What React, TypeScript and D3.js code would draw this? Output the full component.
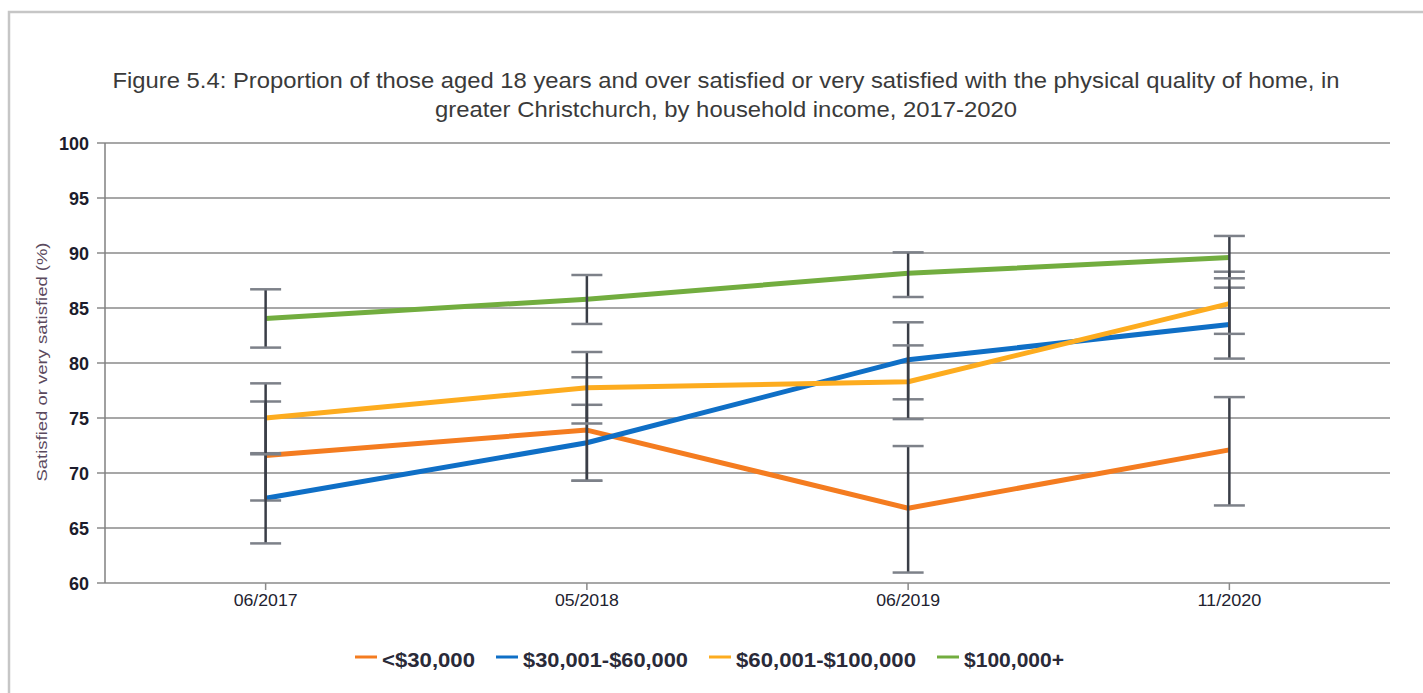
import React from "react";
import * as d3 from "d3";

const categories = ["06/2017", "05/2018", "06/2019", "11/2020"];
const yTicks = [60, 65, 70, 75, 80, 85, 90, 95, 100];

const seriesNames = ["<$30,000", "$30,001-$60,000", "$60,001-$100,000", "$100,000+"];

const under30 = [71.6, 73.9, 66.8, 72.1];
const under30Lo = [67.5, 69.3, 60.95, 67.05];
const under30Hi = [76.5, 78.7, 72.45, 76.9];

const inc30to60 = [67.7, 72.75, 80.3, 83.5];
const inc30to60Lo = [63.6, 69.3, 76.7, 80.4];
const inc30to60Hi = [71.8, 76.2, 83.7, 86.85];

const inc60to100 = [75.0, 77.75, 78.3, 85.4];
const inc60to100Lo = [71.7, 74.5, 74.9, 82.65];
const inc60to100Hi = [78.15, 81.0, 81.6, 88.3];

const over100 = [84.05, 85.8, 88.15, 89.6];
const over100Lo = [81.4, 83.55, 86.0, 87.7];
const over100Hi = [86.7, 88.0, 90.06, 91.55];

const colors = ["#F47C20", "#0F6FC6", "#FDAC1F", "#72AD3F"];

const series = [
  { name: seriesNames[0], values: under30, lo: under30Lo, hi: under30Hi, color: colors[0] },
  { name: seriesNames[1], values: inc30to60, lo: inc30to60Lo, hi: inc30to60Hi, color: colors[1] },
  { name: seriesNames[2], values: inc60to100, lo: inc60to100Lo, hi: inc60to100Hi, color: colors[2] },
  { name: seriesNames[3], values: over100, lo: over100Lo, hi: over100Hi, color: colors[3] },
];

const W = 1423;
const H = 693;
const left = 105;
const right = 1390;
const top = 143;
const bottom = 583;

export default function App() {
  const x = d3.scalePoint<string>().domain(categories).range([left, right]).padding(0.5);
  const y = d3.scaleLinear().domain([60, 100]).range([bottom, top]);
  const line = d3
    .line<number>()
    .x((_, i) => x(categories[i]) as number)
    .y((d) => y(d));

  const legendTextWidths = [93, 165, 180, 100];
  let cursor = 355;
  const legendItems = series.map((s, i) => {
    const lx = cursor;
    const tx = lx + 27;
    cursor = tx + legendTextWidths[i] + 21;
    return { ...s, lx, tx, w: legendTextWidths[i] };
  });

  const capHalf = 15.5;

  return (
    <svg
      width={W}
      height={H}
      style={{ position: "absolute", left: 0, top: 0, background: "#fff" }}
      fontFamily="'Liberation Sans', Arial, sans-serif"
    >
      <rect x={9} y={12} width={1600} height={900} fill="#fff" stroke="#c6c6c6" strokeWidth={2.5} />

      <text x={726} y={88} textAnchor="middle" fontSize={22} fill="#3a3a3a" textLength={1227} lengthAdjust="spacingAndGlyphs">
        Figure 5.4: Proportion of those aged 18 years and over satisfied or very satisfied with the physical quality of home, in
      </text>
      <text x={726} y={117} textAnchor="middle" fontSize={22} fill="#3a3a3a" textLength={582} lengthAdjust="spacingAndGlyphs">
        greater Christchurch, by household income, 2017-2020
      </text>

      {/* grid */}
      {yTicks.map((t) => (
        <g key={t}>
          <line x1={left} x2={right} y1={y(t)} y2={y(t)} stroke="#8a8a8a" strokeWidth={1.5} />
          <line x1={97} x2={left} y1={y(t)} y2={y(t)} stroke="#8a8a8a" strokeWidth={1.5} />
          <text
            x={89}
            y={y(t) + 6.5}
            textAnchor="end"
            fontSize={18}
            fontWeight={600}
            fill="#1c1c2c"
            textLength={String(t).length * 10}
            lengthAdjust="spacingAndGlyphs"
          >
            {t}
          </text>
        </g>
      ))}
      <line x1={left} x2={left} y1={top} y2={bottom} stroke="#808080" strokeWidth={1.5} />

      {categories.map((c) => (
        <g key={c}>
          <line x1={x(c)} x2={x(c)} y1={bottom} y2={bottom + 7} stroke="#8a8a8a" strokeWidth={1.5} />
          <text x={x(c)} y={606} textAnchor="middle" fontSize={17} fill="#22222f" textLength={64} lengthAdjust="spacingAndGlyphs">
            {c}
          </text>
        </g>
      ))}

      <text
        transform={`translate(47, 362) rotate(-90)`}
        textAnchor="middle"
        fontSize={15}
        fill="#5b4a5e"
        textLength={239}
        lengthAdjust="spacingAndGlyphs"
      >
        Satisfied or very satisfied (%)
      </text>

      {/* series lines */}
      {series.map((s) => (
        <path key={s.name} d={line(s.values) || ""} fill="none" stroke={s.color} strokeWidth={5} strokeLinejoin="round" />
      ))}

      {/* error bars */}
      {series.map((s) =>
        categories.map((c, i) => {
          const cx = x(c) as number;
          return (
            <g key={s.name + c}>
              <line x1={cx} x2={cx} y1={y(s.lo[i])} y2={y(s.hi[i])} stroke="#3a3e47" strokeWidth={2.5} />
              <line x1={cx - capHalf} x2={cx + capHalf} y1={y(s.hi[i])} y2={y(s.hi[i])} stroke="#7d8189" strokeWidth={2.5} />
              <line x1={cx - capHalf} x2={cx + capHalf} y1={y(s.lo[i])} y2={y(s.lo[i])} stroke="#7d8189" strokeWidth={2.5} />
            </g>
          );
        })
      )}

      {/* legend */}
      {legendItems.map((s) => (
        <g key={s.name}>
          <line x1={s.lx} x2={s.lx + 22} y1={657} y2={657} stroke={s.color} strokeWidth={3} />
          <text x={s.tx} y={667} fontSize={21} fontWeight={700} fill="#2a2a38" textLength={s.w} lengthAdjust="spacingAndGlyphs">
            {s.name}
          </text>
        </g>
      ))}
    </svg>
  );
}
